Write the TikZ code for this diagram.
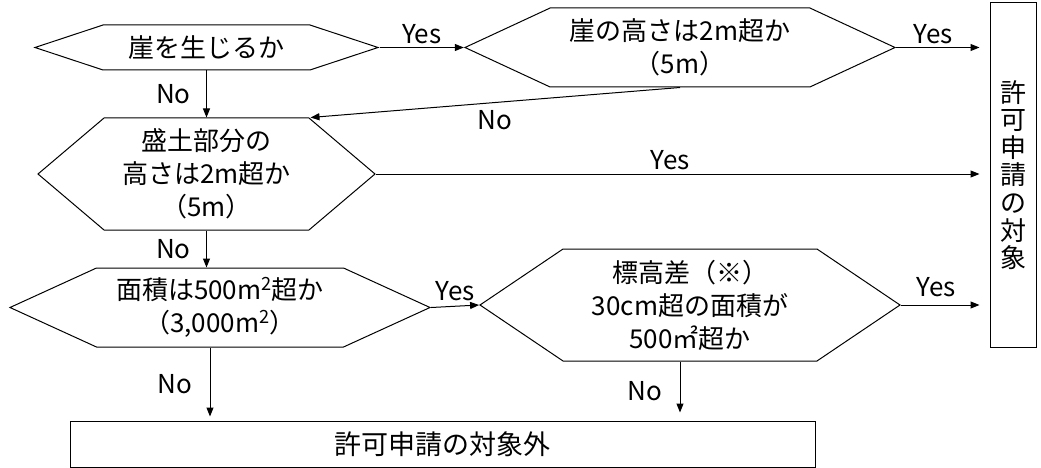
\documentclass[tikz,border=0pt]{standalone}
\usepackage{fontspec}
\setmainfont{Noto Sans CJK JP}
\usetikzlibrary{shapes.symbols, arrows.meta}
\usetikzlibrary{positioning}

\begin{document}
\begin{tikzpicture}[x=1pt, y=-1pt,
                check/.style={signal, signal to=west and east, draw, line
                        width=1pt, align=center, inner sep=0pt,
                        font=\fontsize{26}{33}\selectfont},
                goal/.style={draw, line width=1pt, inner sep=0pt,
                        align=center, font=\fontsize{27}{33}\selectfont},
                answer/.style={font=\fontsize{26}{30}\selectfont},
                arrow/.style={-{Triangle[length=9pt, width=7pt]}, line width=1pt},
            ]
            \useasboundingbox (0,0) rectangle (1041,468);

            \node[check, minimum width=343, minimum height=45, signal pointer angle=36.6] (cliff_check) at (206.5,47.5) {崖を生じるか};
            \node[check, minimum width=430, minimum height=79, signal pointer angle=49.8] (cliff_height) at (680,47.5) {崖の高さは2m超か\\（5m）};
            \node[check, minimum width=337, minimum height=112, signal pointer angle=80.6] (fill_height) at (206.5,174) {盛土部分の\\高さは2m超か\\（5m）};
            \node[check, minimum width=420, minimum height=79, signal pointer angle=49.1] (area_check) at (220,307.5) {面積は500m\textsuperscript{2}超か\\（3,000m\textsuperscript{2}）};
            \node[check, minimum width=420, minimum height=112, signal pointer angle=68] (diff_area) at (690,305) {標高差（※）\\30cm超の面積が\\500㎡超か};

            \node[goal, minimum width=46, minimum height=344, font=\fontsize{26}{27.6}\selectfont] (permit_box) at (1013,175) {許\\可\\申\\請\\の\\対\\象};
            \node[goal, minimum width=745, minimum height=46] (exempt_box) at (442.5,444) {許可申請の対象外};

            % yes branches
            \draw[arrow] (cliff_check.east) -- node[answer, above] {Yes} (cliff_height.west);
            \draw[arrow, shorten >=10pt] (cliff_height.east) -- node[answer, above, pos=0.4] {Yes} (cliff_height.east -| permit_box.west);
            \draw[arrow, shorten >=10pt] (fill_height.east) -- node[answer, above, pos=0.48] {Yes} (fill_height.east -| permit_box.west);
            \draw[arrow] (area_check.east) -- node[answer, above=2pt] {Yes} (diff_area.west);
            \draw[arrow, shorten >=10pt] (diff_area.east) -- node[answer, above=4pt, pos=0.4] {Yes} (diff_area.east -| permit_box.west);

            % no branches
            \draw[arrow] (cliff_check.south) -- node[answer, left=12pt] {No} (fill_height.north);
            \draw[arrow] (cliff_height.south) -- node[answer, below=4pt] {No} ([xshift=104pt]fill_height.north);
            \draw[arrow] (fill_height.south) -- node[answer, left=12pt] {No} (fill_height.south |- area_check.north);
            \draw[arrow, shorten >=4pt] ([xshift=-10pt]area_check.south) -- node[answer, left=14pt] {No} ([xshift=-10pt]area_check.south |- exempt_box.north);
            \draw[arrow, shorten >=8pt] ([xshift=-10pt]diff_area.south) -- node[answer, left=14pt] {No} ([xshift=-10pt]diff_area.south |- exempt_box.north);
        \end{tikzpicture}
\end{document}
